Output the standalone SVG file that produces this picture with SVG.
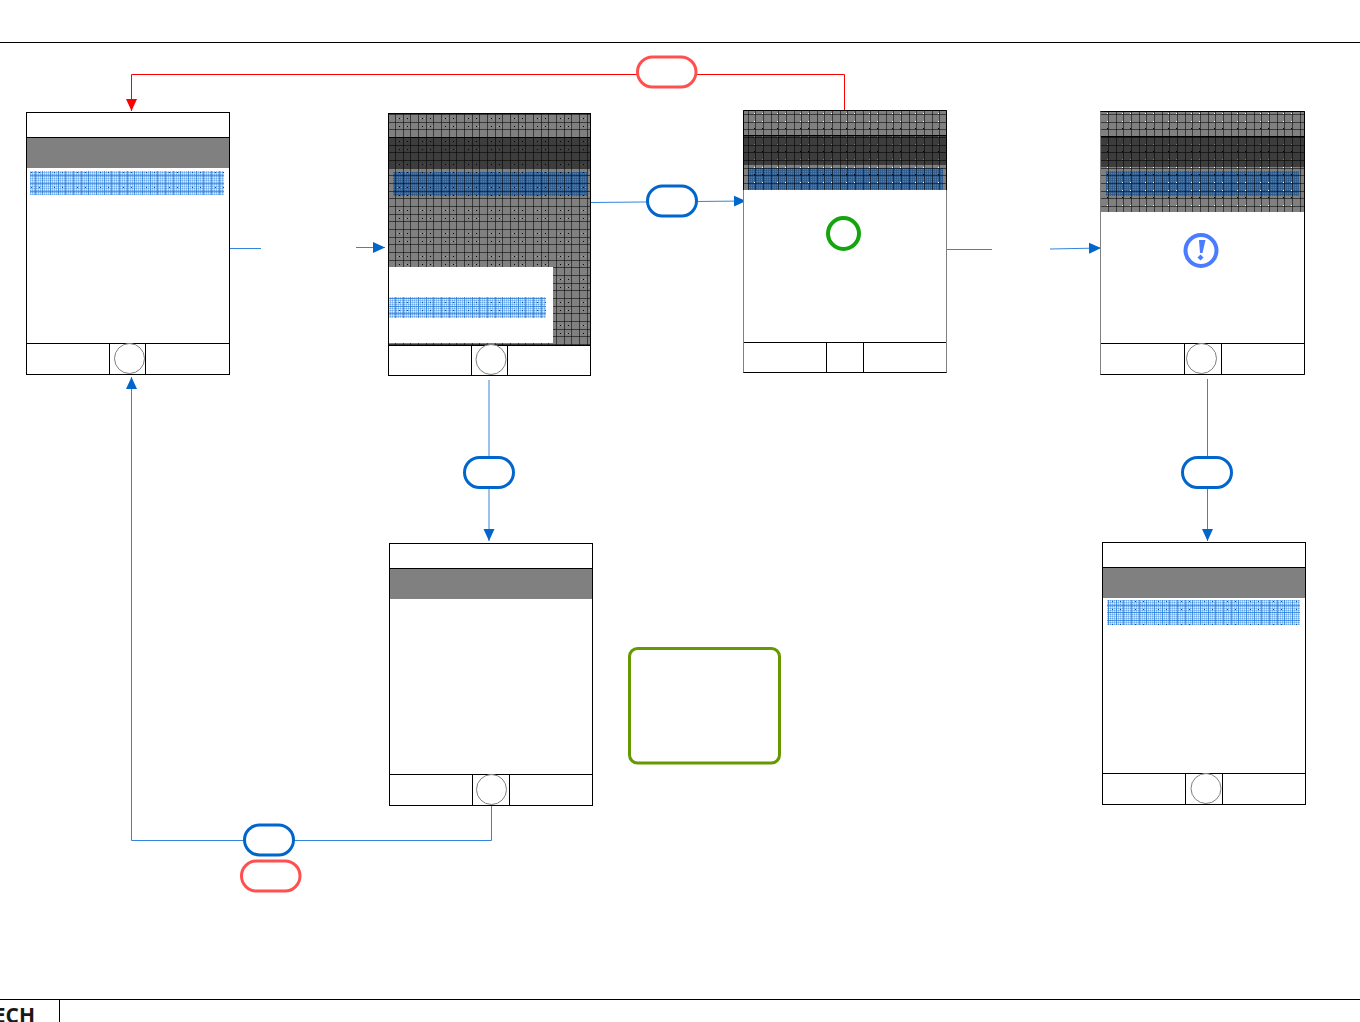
<svg xmlns="http://www.w3.org/2000/svg" width="1360" height="1022" viewBox="0 0 1360 1022">
<style>
.frame{fill:#fff;stroke:#000;stroke-width:1}
.gray{fill:#808080}
.dark{fill:#000;fill-opacity:.52}
.ln{fill:none;stroke:#000;stroke-width:1}
.btn{fill:#fff;stroke:#808080;stroke-width:1}
.blue{fill:none;stroke:#3385db;stroke-width:1}
.red{fill:none;stroke:#f00;stroke-width:1}
.pb{fill:#fff;stroke:#0066cc;stroke-width:3}
.pr{fill:#fff;stroke:#ff5050;stroke-width:3}
.rule{stroke:#000;stroke-width:1}
</style>
<defs>
<pattern id="grid" width="23" height="23" patternUnits="userSpaceOnUse">
<path d="M4.500 0V23M12.500 0V23M19.500 0V23M0 7.500H23M0 14.500H23M0 22.500H23" stroke="#000" stroke-width="1" stroke-opacity=".55" fill="none"/>
</pattern>
<pattern id="dots" width="23" height="23" patternUnits="userSpaceOnUse">
<g fill="#000"><rect x="8" y="3" width="1" height="1"/><rect x="16" y="3" width="1" height="1"/><rect x="8" y="11" width="1" height="1"/><rect x="16" y="11" width="1" height="1"/></g>
<g fill="#fff" fill-opacity=".25"><rect x="6" y="3" width="1" height="1"/><rect x="10" y="3" width="1" height="1"/><rect x="14" y="11" width="1" height="1"/><rect x="18" y="11" width="1" height="1"/></g>
</pattern>
<pattern id="wdots" width="23" height="23" patternUnits="userSpaceOnUse">
<g fill="#fff"><rect x="18" y="21" width="1" height="1"/><rect x="3" y="21" width="1" height="1"/><rect x="18" y="6" width="1" height="1"/><rect x="3" y="6" width="1" height="1"/></g>
<g fill="#000"><rect x="18" y="13" width="1" height="1"/><rect x="3" y="13" width="1" height="1"/></g>
</pattern>
<pattern id="dither" width="2" height="2" patternUnits="userSpaceOnUse">
<rect width="2" height="2" fill="#a4c8f0"/><rect width="1" height="1" fill="#6ea8e8"/><rect x="1" y="1" width="1" height="1" fill="#d8e8f9"/>
</pattern>
<pattern id="bgrid" width="23" height="23" patternUnits="userSpaceOnUse">
<path d="M4.500 0V23M12.500 0V23M19.500 0V23M0 7.500H23M0 14.500H23M0 22.500H23" stroke="#1f78d8" stroke-width="1" stroke-opacity=".65" fill="none"/>
<g fill="#0b4f9e"><rect x="8" y="3" width="1" height="1"/><rect x="16" y="3" width="1" height="1"/><rect x="8" y="11" width="1" height="1"/><rect x="16" y="11" width="1" height="1"/></g>
</pattern>
<pattern id="ddither" width="2" height="2" patternUnits="userSpaceOnUse">
<rect width="2" height="2" fill="#3a6290"/><rect width="1" height="1" fill="#2f5a8c"/><rect x="1" y="1" width="1" height="1" fill="#5a7a9e"/>
</pattern>
<marker id="ab" viewBox="0 0 12 12" refX="12" refY="6" markerWidth="12" markerHeight="12" markerUnits="userSpaceOnUse" orient="auto"><path d="M0 0.500L12 6L0 11.500Z" fill="#0066cc"/></marker>
<marker id="ar" viewBox="0 0 12 12" refX="12" refY="6" markerWidth="12" markerHeight="12" markerUnits="userSpaceOnUse" orient="auto"><path d="M0 0.500L12 6L0 11.500Z" fill="#f00"/></marker>
</defs>

<g id="page">
<path class="rule" d="M0 42.500H1360M0 999.500H1360M59.500 999.500V1022"/>
<text x="35" y="1023" text-anchor="end" font-family="'Open Sans','Liberation Sans',sans-serif" font-weight="700" font-size="21" fill="#1a1a1a">ECH</text>
</g>

<g id="connectors">
<path class="red" d="M844.500 110V74.500H131.500V111" marker-end="url(#ar)"/>
<path class="blue" d="M230 248.500H261"/>
<path class="blue" d="M356 247.500H385" marker-end="url(#ab)"/>
<path class="blue" d="M591 202.500L746 201" marker-end="url(#ab)"/>
<path class="blue" d="M947 249.500H992"/>
<path class="blue" d="M1050 249L1101 248" marker-end="url(#ab)"/>
<path class="blue" d="M489 380V541" marker-end="url(#ab)"/>
<path class="blue" d="M1207.500 379V541" marker-end="url(#ab)"/>
<path class="blue" d="M491.500 805V840.500H131.500V377" marker-end="url(#ab)"/>
</g>

<g id="screen-1">
<rect class="frame" x="26.500" y="112.500" width="203" height="262"/>
<rect class="gray" x="27" y="138" width="202" height="30"/>
<path class="ln" d="M27 137.500H229"/>
<rect x="30" y="171" width="194" height="24" fill="url(#dither)"/>
<rect x="30" y="171" width="194" height="24" fill="url(#bgrid)"/>
<path class="ln" d="M27 343.500H229M109.500 343V374M145.500 343V374"/>
<circle class="btn" cx="129.500" cy="358.500" r="15"/>
</g>

<g id="screen-2">
<rect class="frame" x="388.500" y="113.500" width="202" height="262"/>
<rect class="gray" x="389" y="114" width="201" height="231"/>
<rect x="393" y="172" width="194" height="24" fill="url(#ddither)"/>
<rect x="389" y="114" width="201" height="231" fill="url(#grid)"/>
<rect x="389" y="114" width="201" height="231" fill="url(#dots)"/>
<rect class="dark" x="389" y="138" width="202" height="30"/>
<path class="ln" d="M389 137.500H590"/>
<rect x="389" y="267" width="164" height="76" fill="#fff"/>
<rect x="389" y="297" width="157" height="21" fill="url(#dither)"/>
<rect x="389" y="297" width="157" height="21" fill="url(#bgrid)"/>
<path class="ln" d="M389 345.500H590M471.500 345V375M507.500 345V375"/>
<circle class="btn" cx="491" cy="359.500" r="15"/>
</g>

<g id="screen-3">
<rect x="743.500" y="110.500" width="203" height="262" fill="#fff" stroke="#808080"/>
<rect class="gray" x="744" y="111" width="202" height="79"/>
<rect x="748" y="168" width="195" height="22" fill="url(#ddither)"/>
<rect x="744" y="111" width="202" height="79" fill="url(#grid)"/>
<rect x="744" y="111" width="202" height="79" fill="url(#wdots)"/>
<rect class="dark" x="744" y="135" width="202" height="30"/>
<path class="ln" d="M743.500 190V110.500H946.500V190M744 135.500H946"/>
<circle cx="843.500" cy="233.500" r="15.500" fill="#fff" stroke="#12a60c" stroke-width="4"/>
<path class="ln" d="M744 342.500H946M826.500 342V372M863.500 342V372M743.500 372.500H946.500"/>
</g>

<g id="screen-4">
<rect x="1100.500" y="111.500" width="204" height="263" fill="#fff" stroke="#808080"/>
<rect class="gray" x="1101" y="112" width="203" height="100"/>
<rect x="1106" y="171" width="193" height="25" fill="url(#ddither)"/>
<rect x="1101" y="112" width="203" height="100" fill="url(#grid)"/>
<rect x="1101" y="112" width="203" height="100" fill="url(#wdots)"/>
<rect class="dark" x="1101" y="137" width="203" height="30"/>
<path class="ln" d="M1100.500 111.500H1304.500V374.500M1101 136.500H1304"/>
<circle cx="1201" cy="250.500" r="15.500" fill="#fff" stroke="#4b7bff" stroke-width="4"/>
<path d="M1199 240H1205.500L1202.500 253H1200Z" fill="#4b7bff"/>
<path d="M1200.500 254.500L1203.500 257.500L1200.500 260.500L1197.500 257.500Z" fill="#4b7bff"/>
<path class="ln" d="M1101 343.500H1304M1184.500 343V374M1221.500 343V374M1100.500 374.500H1304.500"/>
<circle class="btn" cx="1201.500" cy="358.500" r="15"/>
</g>

<g id="screen-5">
<rect class="frame" x="389.500" y="543.500" width="203" height="262"/>
<rect class="gray" x="390" y="569" width="202" height="30"/>
<path class="ln" d="M390 568.500H592M390 774.500H592M472.500 774V805M509.500 774V805"/>
<circle class="btn" cx="491.500" cy="789.500" r="15"/>
</g>

<g id="screen-6">
<rect class="frame" x="1102.500" y="542.500" width="203" height="262"/>
<rect class="gray" x="1103" y="568" width="202" height="30"/>
<rect x="1107" y="600" width="193" height="25" fill="url(#dither)"/>
<rect x="1107" y="600" width="193" height="25" fill="url(#bgrid)"/>
<path class="ln" d="M1103 567.500H1305M1103 773.500H1305M1185.500 773V804M1222.500 773V804"/>
<circle class="btn" cx="1206" cy="788.500" r="15"/>
</g>

<g id="note">
<rect x="629.500" y="648.500" width="150" height="114.500" rx="8" fill="#fff" stroke="#669900" stroke-width="3"/>
</g>

<g id="pill-red-top"><rect class="pr" x="637.500" y="57" width="58.500" height="30" rx="15"/></g>
<g id="pill-blue-top"><rect class="pb" x="647.500" y="186" width="49" height="30" rx="15"/></g>
<g id="pill-blue-mid"><rect class="pb" x="464.500" y="457.500" width="49" height="30" rx="15"/></g>
<g id="pill-blue-right"><rect class="pb" x="1182.500" y="457.500" width="49" height="30" rx="15"/></g>
<g id="pill-blue-bottom"><rect class="pb" x="244.500" y="825" width="49" height="30" rx="15"/></g>
<g id="pill-red-bottom"><rect class="pr" x="241.500" y="861" width="58.500" height="30" rx="15"/></g>
</svg>
